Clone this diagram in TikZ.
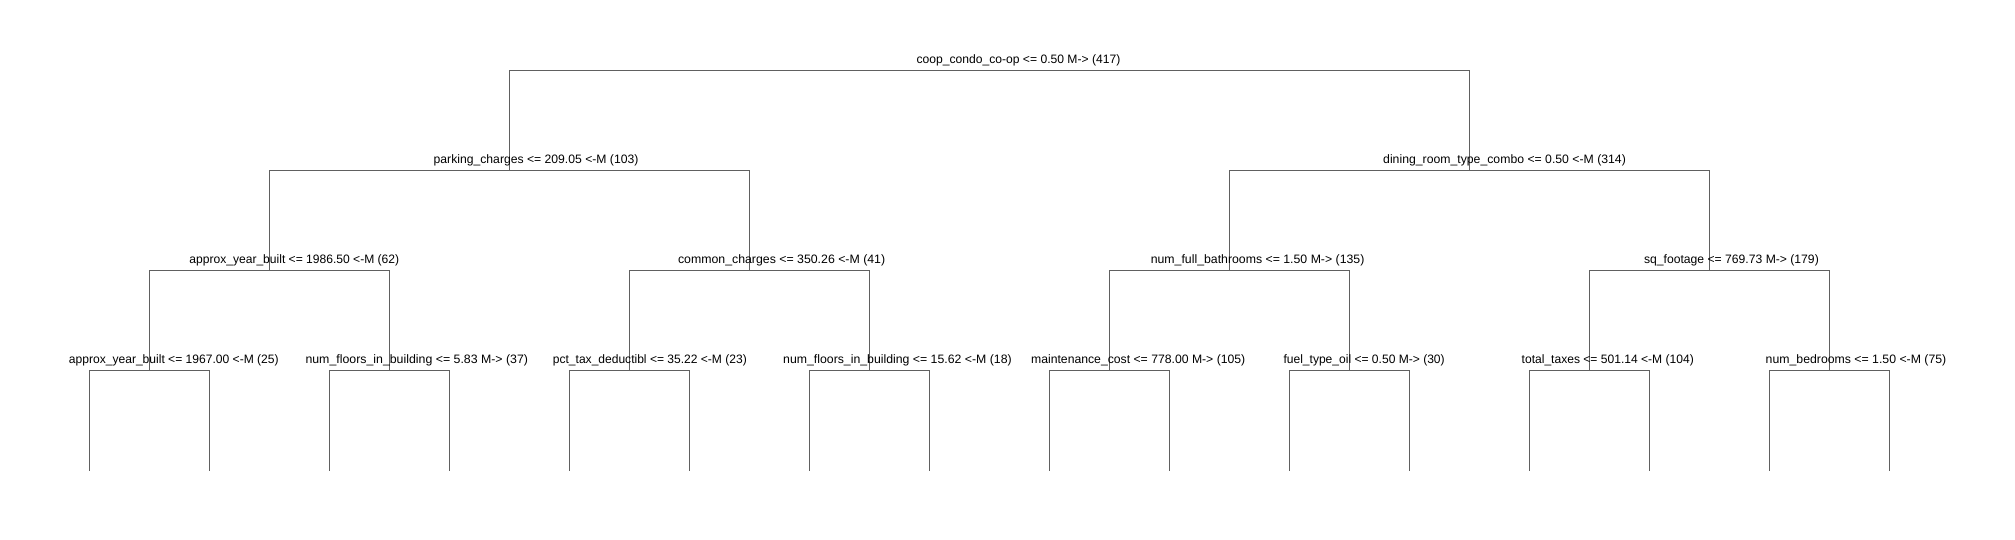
\documentclass[tikz,border=0pt]{standalone}
\usepackage{fontspec}
\usepackage{graphicx}
\setmainfont{Liberation Sans}
\definecolor{edgegray}{HTML}{606060}
\tikzset{
  edge/.style={draw=edgegray, line width=1pt},
  lab/.style={inner sep=0pt, outer sep=0pt, anchor=base west, text=black,
              font=\fontsize{12.2}{14}\selectfont}
}
\newcommand\splitlabel[5]{%
  \node[lab] (#1) at (#2,#3) {\resizebox{#4pt}{\height}{#5}};}
\begin{document}
\begin{tikzpicture}[x=1pt,y=-1pt]
\useasboundingbox[fill=white] (0,0) rectangle (2015,540);
% split points
\coordinate (root) at (989.5,70.5);
\coordinate (a) at (509.5,170.5);
\coordinate (b) at (1469.5,170.5);
\coordinate (aa) at (269.5,270.5);
\coordinate (ab) at (749.5,270.5);
\coordinate (ba) at (1229.5,270.5);
\coordinate (bb) at (1709.5,270.5);
\coordinate (aaa) at (149.5,370.5);
\coordinate (aab) at (389.5,370.5);
\coordinate (aba) at (629.5,370.5);
\coordinate (abb) at (869.5,370.5);
\coordinate (baa) at (1109.5,370.5);
\coordinate (bab) at (1349.5,370.5);
\coordinate (bba) at (1589.5,370.5);
\coordinate (bbb) at (1829.5,370.5);
\foreach \i in {0,...,15} \coordinate (l\i) at ({89.5+120*\i},470.5);
% connectors
\draw[edge] (root) -| (a);  \draw[edge] (root) -| (b);
\draw[edge] (a) -| (aa);    \draw[edge] (a) -| (ab);
\draw[edge] (b) -| (ba);    \draw[edge] (b) -| (bb);
\draw[edge] (aa) -| (aaa);  \draw[edge] (aa) -| (aab);
\draw[edge] (ab) -| (aba);  \draw[edge] (ab) -| (abb);
\draw[edge] (ba) -| (baa);  \draw[edge] (ba) -| (bab);
\draw[edge] (bb) -| (bba);  \draw[edge] (bb) -| (bbb);
\draw[edge] (aaa) -| (l0);  \draw[edge] (aaa) -| (l1);
\draw[edge] (aab) -| (l2);  \draw[edge] (aab) -| (l3);
\draw[edge] (aba) -| (l4);  \draw[edge] (aba) -| (l5);
\draw[edge] (abb) -| (l6);  \draw[edge] (abb) -| (l7);
\draw[edge] (baa) -| (l8);  \draw[edge] (baa) -| (l9);
\draw[edge] (bab) -| (l10); \draw[edge] (bab) -| (l11);
\draw[edge] (bba) -| (l12); \draw[edge] (bba) -| (l13);
\draw[edge] (bbb) -| (l14); \draw[edge] (bbb) -| (l15);
% labels
\splitlabel{troot}{916.5}{63.2}{203.9}{coop\_condo\_co-op <= 0.50 M-> (417)}
\splitlabel{ta}{433.7}{163.2}{204.7}{parking\_charges <= 209.05 <-M (103)}
\splitlabel{tb}{1383.2}{163.2}{242.7}{dining\_room\_type\_combo <= 0.50 <-M (314)}
\splitlabel{taa}{189.4}{263.2}{209.8}{approx\_year\_built <= 1986.50 <-M (62)}
\splitlabel{tab}{678.0}{263.2}{207.2}{common\_charges <= 350.26 <-M (41)}
\splitlabel{tba}{1150.8}{263.2}{213.6}{num\_full\_bathrooms <= 1.50 M-> (135)}
\splitlabel{tbb}{1644.0}{263.2}{174.8}{sq\_footage <= 769.73 M-> (179)}
\splitlabel{taaa}{68.9}{363.2}{209.8}{approx\_year\_built <= 1967.00 <-M (25)}
\splitlabel{taab}{305.5}{363.2}{222.6}{num\_floors\_in\_building <= 5.83 M-> (37)}
\splitlabel{taba}{552.9}{363.2}{193.9}{pct\_tax\_deductibl <= 35.22 <-M (23)}
\splitlabel{tabb}{783.2}{363.2}{228.5}{num\_floors\_in\_building <= 15.62 <-M (18)}
\splitlabel{tbaa}{1031.1}{363.2}{214.2}{maintenance\_cost <= 778.00 M-> (105)}
\splitlabel{tbab}{1283.5}{363.2}{161.2}{fuel\_type\_oil <= 0.50 M-> (30)}
\splitlabel{tbba}{1521.7}{363.2}{172.1}{total\_taxes <= 501.14 <-M (104)}
\splitlabel{tbbb}{1765.7}{363.2}{180.6}{num\_bedrooms <= 1.50 <-M (75)}
\end{tikzpicture}
\end{document}
